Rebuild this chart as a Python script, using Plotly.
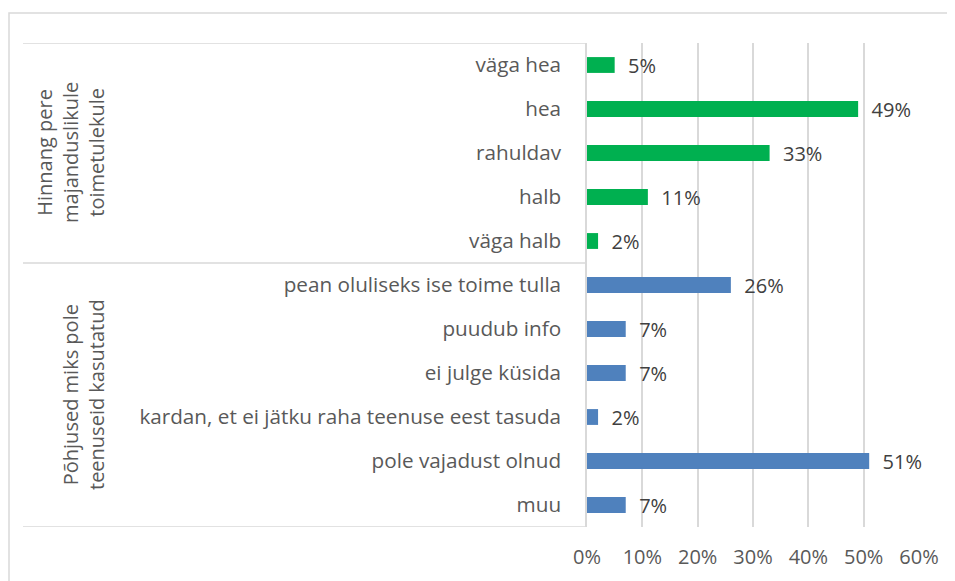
import plotly.graph_objects as go

group1_title = "Hinnang pere<br>majanduslikule<br>toimetulekule"
group1_labels = ["väga hea", "hea", "rahuldav", "halb", "väga halb"]
group1_values = [0.05, 0.49, 0.33, 0.11, 0.02]

group2_title = "Põhjused miks pole<br>teenuseid kasutatud"
group2_labels = ["pean oluliseks ise toime tulla", "puudub info", "ei julge küsida",
                 "kardan, et ei jätku raha teenuse eest tasuda", "pole vajadust olnud", "muu"]
group2_values = [0.26, 0.07, 0.07, 0.02, 0.51, 0.07]

OFF = 8  # page body margin
W, H = 955 - OFF, 581 - OFF
# target pixel coordinates in the window
PL, PR, PT, PB = 587, 919, 43, 527
L, T = PL - OFF, PT - OFF
R = W - (PR - OFF)
B = H - (PB - OFF)
pw = PR - PL
ph = PB - PT

def px_x(px):
    return (px - PL) / pw

def px_y(py):
    return 1 - (py - PT) / ph

FONT = "Open Sans"
TXT = "#404040"
LBL = "#595959"
GRID = "#D9D9D9"
FS = 20

def fmt(vals):
    return ["\u00a0\u00a0" + f"{v:.0%}" for v in vals]

fig = go.Figure()
fig.add_trace(go.Bar(
    x=group1_values, y=group1_labels, orientation="h",
    marker=dict(color="#00B050", line=dict(width=0)),
    width=0.36, text=fmt(group1_values),
    textposition="outside", cliponaxis=False, constraintext="none",
    textfont=dict(family=FONT, size=FS, color=TXT),
))
fig.add_trace(go.Bar(
    x=group2_values, y=group2_labels, orientation="h",
    marker=dict(color="#4F81BD", line=dict(width=0)),
    width=0.36, text=fmt(group2_values),
    textposition="outside", cliponaxis=False, constraintext="none",
    textfont=dict(family=FONT, size=FS, color=TXT),
))

all_labels = group1_labels + group2_labels
n1 = len(group1_labels)
n = len(all_labels)

fig.update_layout(
    width=W, height=H,
    margin=dict(l=L, r=R, t=T, b=B, pad=0),
    paper_bgcolor="white", plot_bgcolor="white",
    barmode="overlay",
    showlegend=False,
    font=dict(family=FONT, size=FS, color=TXT),
    xaxis=dict(range=[0, 0.6], dtick=0.1, tickformat=".0%",
               showgrid=True, gridcolor=GRID, gridwidth=1.5, zeroline=False,
               showline=False, ticks="", ticklabelstandoff=16,
               tickfont=dict(family=FONT, size=FS, color=LBL)),
    yaxis=dict(type="category", categoryorder="array", categoryarray=all_labels,
               range=[n - 0.5, -0.5], showgrid=False, zeroline=False,
               showline=True, linecolor=GRID, linewidth=1.5, ticks="",
               ticklabelstandoff=20,
               tickfont=dict(family=FONT, size=20.7, color=LBL)),
)

shapes = []
for yv in [-0.5, n1 - 0.5, n - 0.5]:
    shapes.append(dict(type="line", xref="paper", yref="y",
                       x0=px_x(23), x1=0, y0=yv, y1=yv,
                       line=dict(color=GRID, width=1.5)))
shapes.append(dict(type="rect", xref="paper", yref="paper",
                   x0=px_x(9), x1=px_x(970), y0=px_y(600), y1=px_y(13),
                   line=dict(color=GRID, width=1.5), layer="below"))
fig.update_layout(shapes=shapes)

fig.add_annotation(text=group1_title, xref="paper", yref="y",
                   x=px_x(70), y=(n1 - 1) / 2, textangle=-90, showarrow=False,
                   xanchor="center", yanchor="middle",
                   font=dict(family=FONT, size=FS, color=LBL), align="center")
fig.add_annotation(text=group2_title, xref="paper", yref="y",
                   x=px_x(83), y=n1 + (n - n1 - 1) / 2, textangle=-90, showarrow=False,
                   xanchor="center", yanchor="middle",
                   font=dict(family=FONT, size=FS, color=LBL), align="center")

fig.write_html("out.html")
